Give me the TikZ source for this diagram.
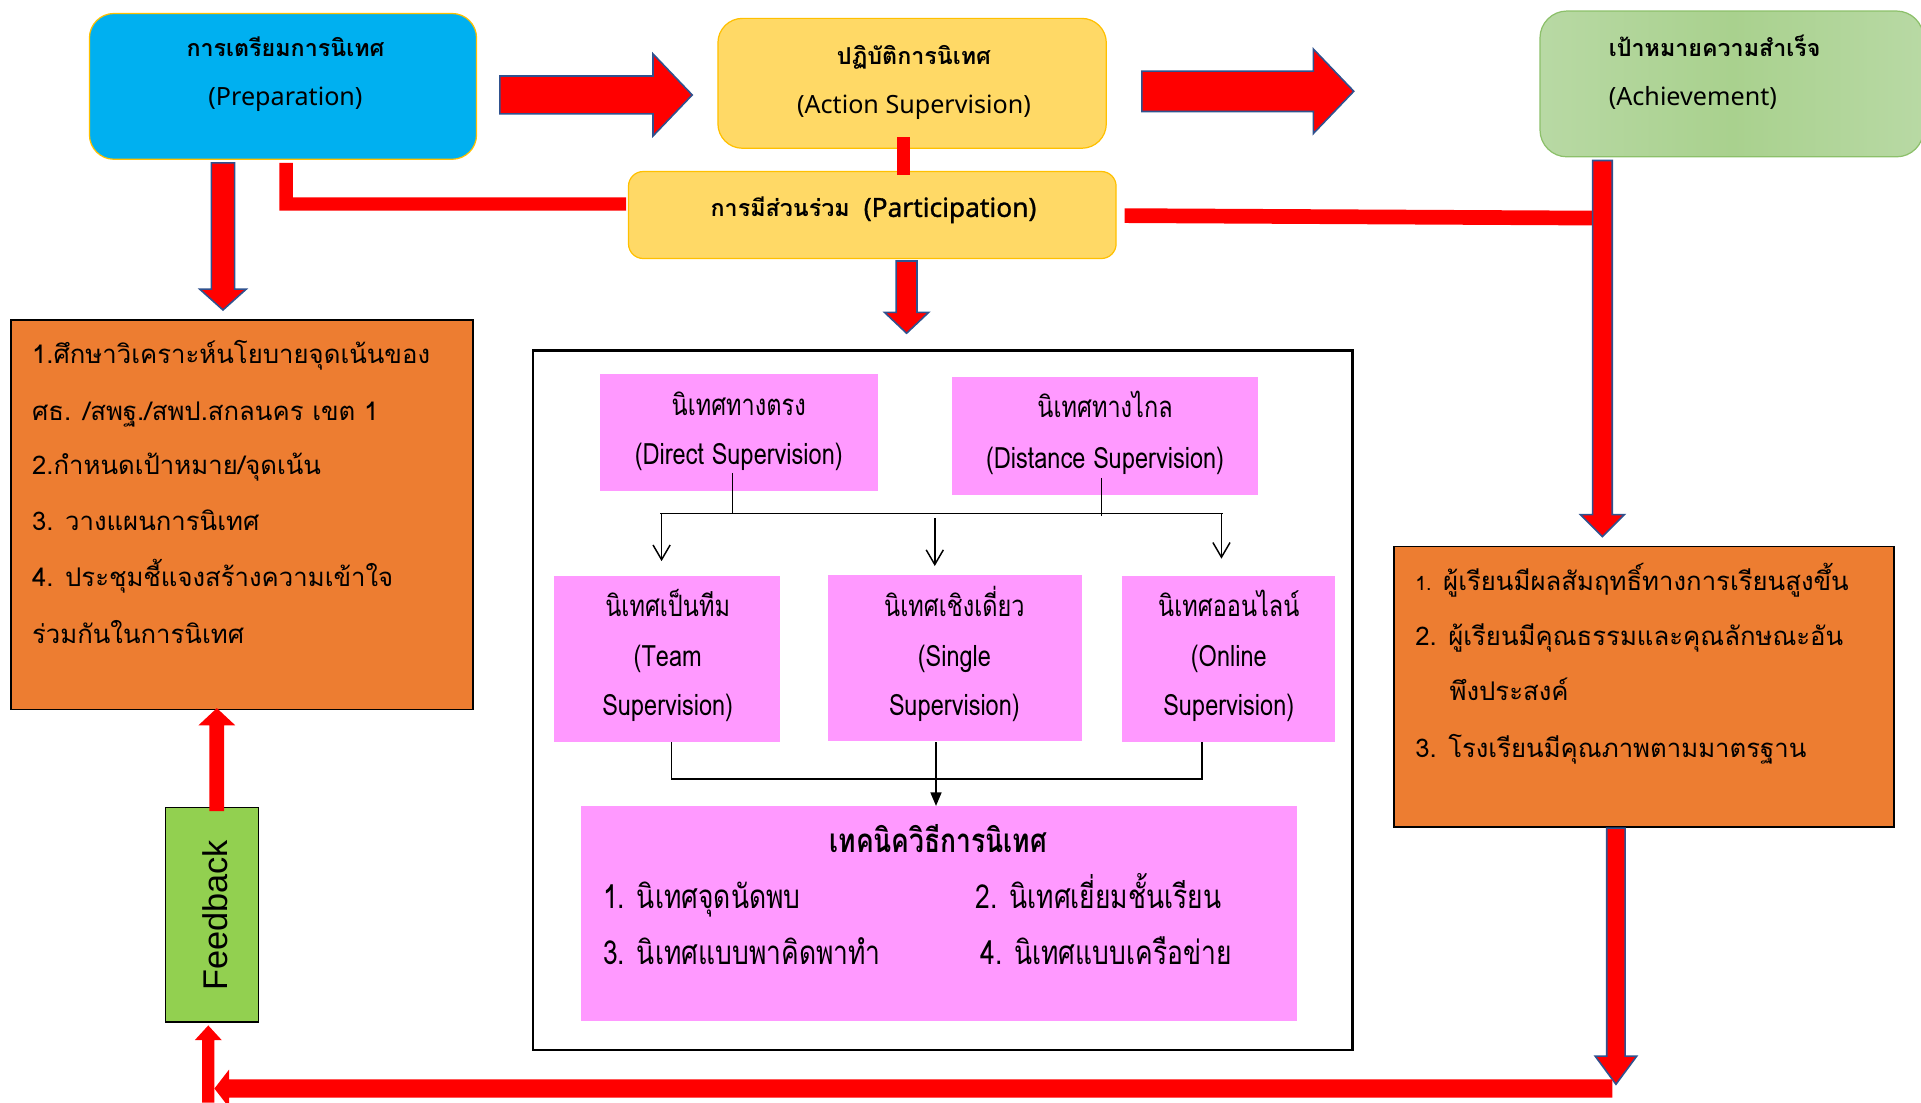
\documentclass[tikz,border=0pt]{standalone}
\usepackage{fontspec}
\setmainfont[Script=Thai]{Loma}
\newfontfamily\thaicond[Script=Thai,FakeStretch=0.8]{Loma}
\newfontfamily\latinfont{Noto Sans}
\newfontfamily\latinbold[FakeBold=1.2]{Noto Sans}
\newfontfamily\fbfont{Liberation Sans}
\usetikzlibrary{arrows.meta,calc}
\definecolor{cyanbox}{HTML}{00B0F0}
\definecolor{yellowbox}{HTML}{FFD966}
\definecolor{goldline}{HTML}{FFC000}
\definecolor{achM}{HTML}{A9D18E}
\definecolor{achL}{HTML}{B8D9A4}
\definecolor{achline}{HTML}{8CC06A}
\definecolor{orangebox}{HTML}{ED7D31}
\definecolor{pinkbox}{HTML}{FF99FF}
\definecolor{fbgreen}{HTML}{92D050}
\definecolor{arrowred}{HTML}{FF0000}
\definecolor{arrowblue}{HTML}{2F528F}
\tikzset{
  rbox/.style={rectangle, inner sep=0pt},
  pinkb/.style={rectangle, inner sep=0pt, fill=pinkbox},
  orangeb/.style={rectangle, inner sep=0pt, fill=orangebox, draw=black, line width=1.2pt},
  blockarrow/.style={fill=arrowred, draw=arrowblue, line width=1.3pt, line join=miter},
  redbar/.style={fill=arrowred},
  thinline/.style={draw=black, line width=1.2pt},
  tA/.style={font=\latinfont\fontsize{20.5}{24}\selectfont, inner sep=0pt},
  tAb/.style={font=\fontsize{19}{24}\selectfont\bfseries, inner sep=0pt},
  tB/.style={font=\fontsize{21}{24}\selectfont, inner sep=0pt, anchor=base west},
  tC/.style={font=\thaicond\fontsize{24}{26}\selectfont, inner sep=0pt},
  tD/.style={font=\thaicond\fontsize{27}{30}\selectfont, inner sep=0pt},
  tDb/.style={font=\thaicond\fontsize{27}{30}\selectfont\bfseries, inner sep=0pt},
}
\begin{document}
\begin{tikzpicture}[x=1pt,y=-1pt]
\useasboundingbox (0,0) rectangle (1568,900);
% ---------- top boxes ----------
\node[rbox, fill=cyanbox, draw=goldline, line width=1pt, rounded corners=20pt,
      minimum width=316pt, minimum height=119pt] (prep) at (231,70.5) {};
\node[rbox, fill=yellowbox, draw=goldline, line width=1pt, rounded corners=20pt,
      minimum width=317pt, minimum height=106pt] (action) at (744.5,68) {};
\node[rbox, fill=yellowbox, draw=goldline, line width=1pt, rounded corners=12pt,
      minimum width=398pt, minimum height=71pt] (part) at (712,175.5) {};
\node[rbox, left color=achL, right color=achL, middle color=achM, draw=achline, line width=1pt,
      rounded corners=22pt, minimum width=313pt, minimum height=119pt] (ach) at (1413.5,68.5) {};
% texts of top boxes
\node[tAb, anchor=base] (prep-t1) at (233,46) {การเตรียมการนิเทศ};
\node[tA, anchor=base] (prep-t2) at (233,86) {(Preparation)};
\node[tAb, anchor=base] (action-t1) at (746,53) {ปฏิบัติการนิเทศ};
\node[tA, anchor=base] (action-t2) at (746,93) {(Action Supervision)};
\node[tAb, anchor=base west] (ach-t1) at (1313,46) {เป้าหมายความสำเร็จ};
\node[tA, anchor=base west] (ach-t2) at (1313,86) {(Achievement)};
\node[tAb, anchor=base] (part-t) at (713,177) {การมีส่วนร่วม\hspace{0.6em}{\latinbold\fontsize{21.5}{24}\selectfont (Participation)}};
% ---------- left orange box ----------
\node[orangeb, minimum width=377pt, minimum height=318pt] (plan) at (197.5,420) {};
\node[tB] (plan-1) at (26,297) {1.ศึกษาวิเคราะห์นโยบายจุดเน้นของ};
\node[tB] (plan-2) at (26,343) {ศธ. /สพฐ./สพป.สกลนคร เขต 1};
\node[tB] (plan-3) at (26,387) {2.กำหนดเป้าหมาย/จุดเน้น};
\node[tB] (plan-4) at (26,433) {3. วางแผนการนิเทศ};
\node[tB] (plan-5) at (26,479) {4. ประชุมชี้แจงสร้างความเข้าใจ};
\node[tB] (plan-6) at (26,525) {ร่วมกันในการนิเทศ};
% ---------- right orange box ----------
\node[orangeb, minimum width=408pt, minimum height=229pt] (result) at (1342,560.5) {};
\node[tB] (res-1) at (1155,482) {{\fontsize{16}{20}\selectfont 1.} ผู้เรียนมีผลสัมฤทธิ์ทางการเรียนสูงขึ้น};
\node[tB] (res-2) at (1155,527) {2. ผู้เรียนมีคุณธรรมและคุณลักษณะอัน};
\node[tB] (res-3) at (1183,572) {พึงประสงค์};
\node[tB] (res-4) at (1155,618) {3. โรงเรียนมีคุณภาพตามมาตรฐาน};
% ---------- feedback ----------
\node[rbox, fill=fbgreen, draw=black, line width=1.2pt, minimum width=76pt, minimum height=175pt] (fb) at (173,746.5) {};
\node[rotate=90, font=\fbfont\fontsize{28}{28}\selectfont, inner sep=0pt] (fb-t) at (176,747) {Feedback};
% ---------- centre frame ----------
\node[rbox, draw=black, line width=2pt, minimum width=669pt, minimum height=571pt] (frame) at (769.5,571.5) {};
\node[pinkb, minimum width=227pt, minimum height=96pt] (direct) at (603.5,353) {};
\node[pinkb, minimum width=250pt, minimum height=96pt] (distance) at (902,356) {};
\node[pinkb, minimum width=185pt, minimum height=136pt] (team) at (544.5,538) {};
\node[pinkb, minimum width=207pt, minimum height=136pt] (single) at (779.5,537) {};
\node[pinkb, minimum width=174pt, minimum height=136pt] (online) at (1003,538) {};
\node[pinkb, minimum width=585pt, minimum height=175pt] (tech) at (766.5,745.5) {};
\node[tC, anchor=base] (direct-t1) at (603,339) {นิเทศทางตรง};
\node[tC, anchor=base] (direct-t2) at (603,379) {(Direct Supervision)};
\node[tC, anchor=base] (distance-t1) at (902,341) {นิเทศทางไกล};
\node[tC, anchor=base] (distance-t2) at (902,382) {(Distance Supervision)};
\node[tC, anchor=base] (team-t1) at (545,503) {นิเทศเป็นทีม};
\node[tC, anchor=base] (team-t2) at (545,544) {(Team};
\node[tC, anchor=base] (team-t3) at (545,584) {Supervision)};
\node[tC, anchor=base] (single-t1) at (779,503) {นิเทศเชิงเดี่ยว};
\node[tC, anchor=base] (single-t2) at (779,544) {(Single};
\node[tC, anchor=base] (single-t3) at (779,584) {Supervision)};
\node[tC, anchor=base] (online-t1) at (1003,503) {นิเทศออนไลน์};
\node[tC, anchor=base] (online-t2) at (1003,544) {(Online};
\node[tC, anchor=base] (online-t3) at (1003,584) {Supervision)};
\node[tDb, anchor=base] (tech-t) at (766,695.5) {เทคนิควิธีการนิเทศ};
\node[tD, anchor=base west] (tech-1) at (492,741.5) {1. นิเทศจุดนัดพบ};
\node[tD, anchor=base west] (tech-2) at (796,741.5) {2. นิเทศเยี่ยมชั้นเรียน};
\node[tD, anchor=base west] (tech-3) at (492,787.5) {3. นิเทศแบบพาคิดพาทำ};
\node[tD, anchor=base west] (tech-4) at (800,787.5) {4. นิเทศแบบเครือข่าย};
% thin connectors
\coordinate (busL) at (539,419);
\coordinate (busR) at (998,419);
\draw[thinline] (598,386) -- (598,419);
\draw[thinline] (899,390) -- (899,421);
\draw[thinline] (busL) -- (busR);
\draw[thinline, -{Straight Barb[length=12pt,width=14pt,line width=1.2pt]}] (540,419) -- (540,458);
\draw[thinline, -{Straight Barb[length=12pt,width=14pt,line width=1.2pt]}] (763,423) -- (763,462);
\draw[thinline, -{Straight Barb[length=12pt,width=14pt,line width=1.2pt]}] (997,419) -- (997,456);
\draw[thinline] (548,606) -- (548,636) -- (981,636) -- (981,606);
\draw[thinline, -{Triangle[length=11pt,width=9pt]}] (764,606) -- (tech.north -| 764,0);
% ---------- red connectors ----------
\fill[redbar] (732,112) rectangle (743,143);
\fill[redbar] (228,133) -- (239,133) -- (239,161) -- (511,161) -- (511,172) -- (228,172) -- cycle;
\fill[redbar] (918,170) -- (1300,172) -- (1300,184) -- (918,182) -- cycle;
% block arrows
\draw[blockarrow] (408,62) -- (533,62) -- (533,44) -- (565,77.5) -- (533,111) -- (533,93) -- (408,93) -- cycle;
\draw[blockarrow] (932,58) -- (1072,58) -- (1072,40) -- (1105,74.5) -- (1072,109) -- (1072,91) -- (932,91) -- cycle;
\draw[blockarrow] (172.5,133) -- (191.5,133) -- (191.5,236) -- (201,236) -- (182,253) -- (163,236) -- (172.5,236) -- cycle;
\draw[blockarrow] (731.5,213) -- (748.5,213) -- (748.5,255) -- (758,255) -- (740,272) -- (722,255) -- (731.5,255) -- cycle;
\draw[blockarrow] (1300,131) -- (1316,131) -- (1316,420) -- (1326,420) -- (1308,438) -- (1290,420) -- (1300,420) -- cycle;
\draw[blockarrow] (1311.5,676) -- (1326.5,676) -- (1326.5,862) -- (1336,862) -- (1319,885) -- (1302,862) -- (1311.5,862) -- cycle;
% feedback loop arrows
\fill[redbar] (1316,881) -- (187,881) -- (187,873) -- (175,888.5) -- (187,904) -- (187,896) -- (1316,896) -- cycle;
\fill[redbar] (165,900) -- (165,849) -- (159,849) -- (170,837) -- (181,849) -- (175,849) -- (175,900) -- cycle;
\fill[redbar] (171,662) -- (171,592) -- (162,592) -- (177,578) -- (192,592) -- (183,592) -- (183,662) -- cycle;
\end{tikzpicture}
\end{document}
